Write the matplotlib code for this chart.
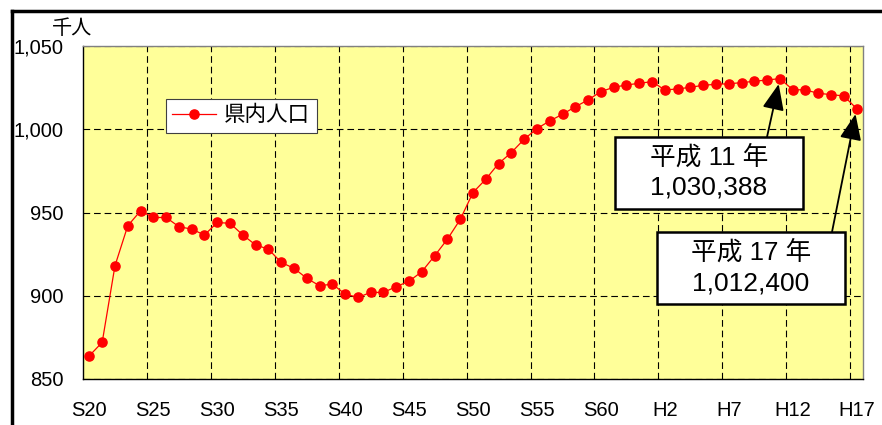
import matplotlib
matplotlib.use("Agg")
import matplotlib.pyplot as plt
from matplotlib.lines import Line2D
from matplotlib.patches import Rectangle
from matplotlib.ticker import FixedLocator, FuncFormatter

# ---- data -------------------------------------------------------------
years = [
    "S20", "S21", "S22", "S23", "S24", "S25", "S26", "S27", "S28", "S29",
    "S30", "S31", "S32", "S33", "S34", "S35", "S36", "S37", "S38", "S39",
    "S40", "S41", "S42", "S43", "S44", "S45", "S46", "S47", "S48", "S49",
    "S50", "S51", "S52", "S53", "S54", "S55", "S56", "S57", "S58", "S59",
    "S60", "S61", "S62", "S63", "H1", "H2", "H3", "H4", "H5", "H6",
    "H7", "H8", "H9", "H10", "H11", "H12", "H13", "H14", "H15", "H16",
    "H17",
]
population = [  # thousand persons
    864.0, 872.0, 918.0, 942.0, 951.0, 947.0, 947.0, 941.5, 940.0, 936.5,
    944.0, 943.5, 936.5, 930.5, 928.0, 920.0, 916.5, 910.5, 906.0, 907.0,
    901.0, 899.0, 902.0, 902.0, 905.5, 908.7, 914.5, 924.0, 934.0, 945.8,
    962.0, 970.0, 979.4, 986.0, 994.0, 1000.4, 1005.0, 1009.0, 1013.5, 1017.6,
    1022.6, 1025.2, 1026.6, 1027.6, 1028.6, 1023.6, 1024.2, 1025.2, 1026.4, 1027.0,
    1027.3, 1028.0, 1028.8, 1029.6, 1030.388, 1023.8, 1023.6, 1021.6, 1020.8, 1020.0,
    1012.4,
]
tick_labels = ["S20", "S25", "S30", "S35", "S40", "S45", "S50", "S55",
               "S60", "H2", "H7", "H12", "H17"]
y_ticks = [850, 900, 950, 1000, 1050]
series_name = "県内人口"
unit_label = "千人"
callouts = [("H11", "平成 11 年"), ("H17", "平成 17 年")]

# ---- figure -----------------------------------------------------------
W, H = 882, 425
fig = plt.figure(figsize=(W / 100, H / 100), dpi=100)
fig.patch.set_facecolor("white")

LAT = "Liberation Sans"
JP = ["Liberation Sans", "Noto Sans CJK JP"]


def fx(px):
    return px / W


def fy(py):
    return 1 - py / H


left, right, top, bottom = 83, 863, 46, 379
ax = fig.add_axes([fx(left), fy(bottom), (right - left) / W, (bottom - top) / H])
ax.set_facecolor("#FFFF99")

x = list(range(len(years)))
ax.plot(x, population, color="#FF0000", lw=0.9, marker="o", ms=6.6,
        mec="#FF0000", mfc="#FF0000", zorder=4, label=series_name)

ax.set_xlim(-0.5, len(years) - 0.5)
ax.set_ylim(y_ticks[0], y_ticks[-1])

# category labels every five years, gridlines on category boundaries
major_pos = [years.index(t) for t in tick_labels]
ax.xaxis.set_major_locator(FixedLocator(major_pos))
ax.set_xticklabels(tick_labels, fontfamily=LAT, fontsize=14.5)
ax.xaxis.set_minor_locator(FixedLocator([p - 0.5 for p in major_pos if p > 0]))
ax.tick_params(axis="x", which="both", length=0, pad=16)

ax.set_yticks(y_ticks)
ax.yaxis.set_major_formatter(FuncFormatter(lambda v, _: f"{int(v):,}"))
for lab in ax.get_yticklabels():
    lab.set_fontfamily(LAT)
    lab.set_fontsize(14.5)
ax.tick_params(axis="y", length=0, pad=14)

dash = (0, (6, 3.5))
ax.grid(True, axis="x", which="minor", color="black", lw=0.8, linestyle=dash)
ax.grid(True, axis="y", which="major", color="black", lw=0.8, linestyle=dash)
ax.set_axisbelow(True)

for side in ["top", "right"]:
    ax.spines[side].set_color("#808080")
    ax.spines[side].set_linewidth(1.0)
for side in ["left", "bottom"]:
    ax.spines[side].set_color("black")
    ax.spines[side].set_linewidth(1.0)

# legend
handle = Line2D([], [], color="#FF0000", lw=0.9, marker="o", ms=6.6)
leg = ax.legend([handle], [series_name], loc="upper left",
                bbox_to_anchor=((166 - left) / (right - left), (bottom - 99) / (bottom - top)),
                borderaxespad=0, fancybox=False, framealpha=1, edgecolor="#404040",
                handlelength=2.0, handletextpad=0.4, borderpad=0.3,
                prop={"family": JP, "size": 15.5})
leg.get_frame().set_linewidth(0.8)

# unit label
fig.text(fx(72), fy(28), unit_label, family=JP, fontsize=14.5, ha="center", va="center")

# callout boxes with arrows to the highlighted points
boxes = [
    dict(x0=615, y0=137, x1=803, y1=209, ax0=767, ay0=137),
    dict(x0=657, y0=232, x1=845, y1=304, ax0=832, ay0=232),
]
for (key, title), b in zip(callouts, boxes):
    i = years.index(key)
    v = population[i]
    tx = ((b["ax0"] - left) / (right - left), (bottom - b["ay0"]) / (bottom - top))
    ax.annotate("", xy=(i, v), xytext=tx, textcoords="axes fraction",
                arrowprops=dict(arrowstyle="-|>,head_length=1.0,head_width=0.42",
                                color="black", lw=1.3, shrinkA=0, shrinkB=4,
                                mutation_scale=16),
                zorder=6)
    rect = Rectangle((fx(b["x0"]), fy(b["y1"])), (b["x1"] - b["x0"]) / W,
                     (b["y1"] - b["y0"]) / H, transform=fig.transFigure,
                     facecolor="white", edgecolor="black", lw=1.8, zorder=7)
    fig.add_artist(rect)
    cx = (b["x0"] + b["x1"]) / 2
    cy = (b["y0"] + b["y1"]) / 2
    fig.text(fx(cx), fy(cy - 16), title, family=JP, fontsize=18.5,
             ha="center", va="center", zorder=8)
    fig.text(fx(cx), fy(cy + 15), f"{round(v * 1000):,}", family=LAT,
             fontsize=19, ha="center", va="center", zorder=8)

# outer frame
fig.add_artist(Line2D([fx(12), fx(12)], [fy(11), 0], color="black", lw=2.5))
fig.add_artist(Line2D([fx(12), 1], [fy(11), fy(11)], color="black", lw=2.5))

fig.savefig("out.png", dpi=100)
